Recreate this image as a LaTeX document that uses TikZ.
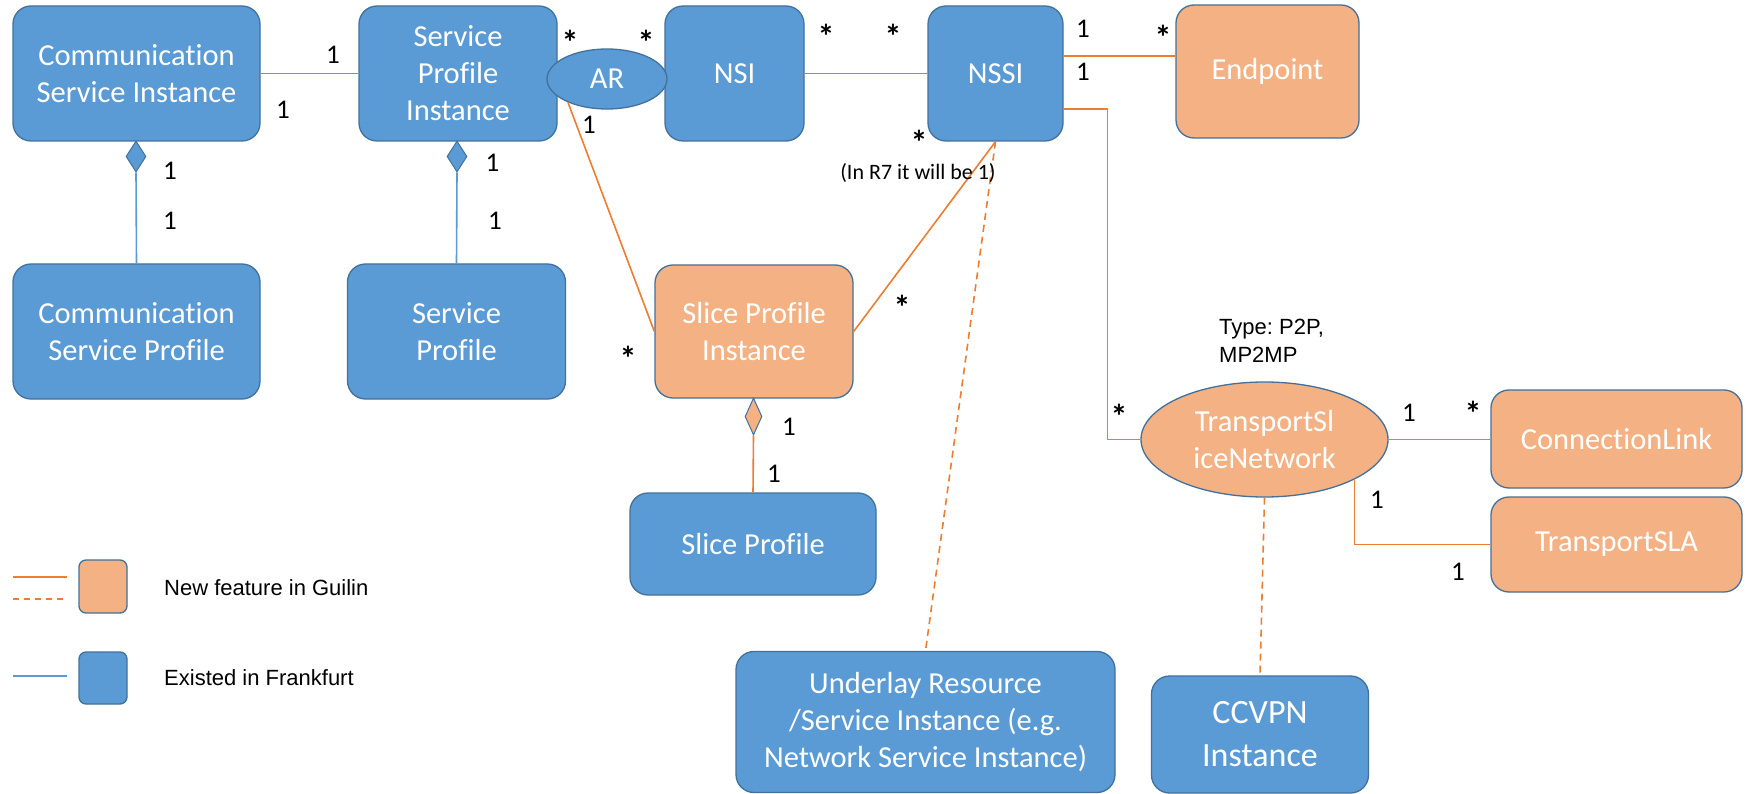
\documentclass[tikz,border=0pt]{standalone}
\usepackage{fontspec}
\setmainfont{Carlito}[Ligatures=NoCommon]
\newfontfamily\arialf{Liberation Sans}
\usetikzlibrary{shapes.geometric}
\definecolor{bfill}{HTML}{5B9BD5}
\definecolor{bedge}{HTML}{41719C}
\definecolor{ofill}{HTML}{F4B183}
\definecolor{oline}{HTML}{ED7D31}
\definecolor{bline}{HTML}{5B9BD5}
\frenchspacing
\begin{document}
\begin{tikzpicture}[x=1pt,y=-1pt,
  box/.style={draw=bedge, line width=1.3pt, rounded corners=18pt, text=white, align=center, inner sep=0pt, font=\fontsize{30.5}{37}\selectfont},
  bluebox/.style={box, fill=bfill},
  orangebox/.style={box, fill=ofill},
  oval/.style={ellipse, draw=bedge, line width=1.3pt, text=white, align=center, inner sep=0pt, font=\fontsize{30.5}{37}\selectfont},
  bconn/.style={draw=bline, line width=1.6pt},
  oconn/.style={draw=oline, line width=1.6pt},
  odash/.style={oconn, dash pattern=on 7pt off 5pt},
  lbl/.style={inner sep=0pt, font=\fontsize{27}{32}\selectfont},
  star/.style={inner sep=0pt, font=\bfseries\fontsize{34}{40}\selectfont},
  dia/.style={diamond, draw=bedge, line width=1pt, inner sep=0pt, minimum width=20pt, minimum height=31pt},
  legtext/.style={anchor=west, inner sep=0pt, font=\arialf\fontsize{22}{28}\selectfont},
  legbox/.style={draw=bedge, line width=1.3pt, rounded corners=7pt, inner sep=0pt, minimum width=48pt, minimum height=52pt},
]
\useasboundingbox (0,0) rectangle (1746,794);
\fill[white] (0,0) rectangle (1746,794);

% boxes
\node[bluebox, minimum width=247pt, minimum height=135pt] (csi) at (136.5,73.5) {Communication\\Service Instance};
\node[bluebox, minimum width=198pt, minimum height=135pt] (spi) at (458,73.5) {Service\\Profile\\Instance};
\node[bluebox, minimum width=139pt, minimum height=135pt] (nsi) at (734.5,73.5) {NSI};
\node[oval, fill=bfill, minimum width=120pt, minimum height=60pt] (ar) at (607,79) {AR};
\node[bluebox, minimum width=135pt, minimum height=135pt] (nssi) at (995.5,73.5) {NSSI};
\node[orangebox, minimum width=183pt, minimum height=133pt] (ep) at (1267.5,71.5) {Endpoint};
\node[bluebox, minimum width=247pt, minimum height=135pt] (csp) at (136.5,331.5) {Communication\\Service Profile};
\node[bluebox, minimum width=218pt, minimum height=135pt] (sp) at (456.5,331.5) {Service\\Profile};
\node[orangebox, minimum width=198pt, minimum height=133pt] (slpi) at (754,331.5) {Slice Profile\\Instance};
\node[bluebox, minimum width=246pt, minimum height=102pt] (slp) at (753,544) {Slice Profile};
\node[oval, fill=ofill, minimum width=247pt, minimum height=115pt] (tsn) at (1264.5,439.5) {TransportSl\\iceNetwork};
\node[orangebox, minimum width=251pt, minimum height=98pt] (cl) at (1616.5,439) {ConnectionLink};
\node[orangebox, minimum width=251pt, minimum height=95pt] (tsla) at (1616.5,544.5) {TransportSLA};
\node[bluebox, minimum width=379pt, minimum height=141pt] (und) at (925.5,722) {Underlay Resource\\/Service Instance (e.g.\\Network Service Instance)};
\node[bluebox, minimum width=217pt, minimum height=117pt, font=\fontsize{34}{43}\selectfont] (ccvpn) at (1260,734.5) {CCVPN\\Instance};

% diamonds
\node[dia, fill=bfill] (d1) at (136,156.5) {};
\node[dia, fill=bfill] (d2) at (457,156.5) {};
\node[dia, fill=ofill, minimum width=17pt, minimum height=37pt] (d3) at (753.5,416.5) {};

% connectors
\draw[bconn] (csi) -- (spi);
\draw[bconn] (d1.south) -- (csp.north);
\draw[bconn] (d2.south) -- (sp.north);
\draw[bconn] (nsi) -- (nssi);
\draw[oconn] (ar.211) -- (slpi.west);
\draw[oconn] (slpi.east) -- (nssi.south);
\draw[odash] (nssi.south) -- (und.north);
\draw[oconn] ([yshift=17.5pt]nssi.east) -- ([yshift=17.5pt]nssi.east -| ep.west);
\draw[oconn] ([yshift=-35.5pt]nssi.east) -- ++(44,0) |- (tsn.west);
\draw[oconn] (d3.south) -- (slp.north);
\draw[oconn] (tsn.east) -- (tsn.east -| cl.west);
\draw[oconn] (tsn.-24.8) |- (tsla.west);
\draw[odash] (tsn.south) -- (ccvpn.north);

% multiplicity labels
\node[lbl] (l1) at (333,55) {1};
\node[lbl] (l2) at (283,110) {1};
\node[lbl] (l3) at (170,171) {1};
\node[lbl] (l4) at (170,221) {1};
\node[lbl] (l5) at (492.5,163) {1};
\node[lbl] (l6) at (495,221) {1};
\node[star] (l7) at (570,42) {*};
\node[star] (l8) at (646,42) {*};
\node[lbl] (l9) at (589,125) {1};
\node[star] (l10) at (826,36) {*};
\node[star] (l11) at (893,36) {*};
\node[lbl] (l12) at (1083,29) {1};
\node[lbl] (l13) at (1083,72) {1};
\node[star] (l14) at (1163,37) {*};
\node[star] (l15) at (919,142) {*};
\node[inner sep=0pt, font=\fontsize{22}{26}\selectfont] (note) at (918,173) {(In R7 it will be 1)};
\node[star] (l16) at (902,307) {*};
\node[star] (l17) at (628,358) {*};
\node[lbl] (l18) at (789,427) {1};
\node[lbl] (l19) at (774,474) {1};
\node[star] (l20) at (1119,416) {*};
\node[lbl] (l21) at (1409,413) {1};
\node[star] (l22) at (1473,413) {*};
\node[lbl] (l23) at (1377,500) {1};
\node[lbl] (l24) at (1458,572) {1};
\node[anchor=north west, align=left, inner sep=0pt, font=\arialf\fontsize{22}{28}\selectfont] (type) at (1219,319) {Type: P2P,\\MP2MP};

% legend
\coordinate (la1) at (13,577); \coordinate (la2) at (67,577);
\coordinate (lb1) at (13,599); \coordinate (lb2) at (67,599);
\coordinate (lc1) at (13,676); \coordinate (lc2) at (67,676);
\draw[oconn] (la1) -- (la2);
\draw[odash, dash pattern=on 6pt off 5pt] (lb1) -- (lb2);
\draw[bconn] (lc1) -- (lc2);
\node[legbox, fill=ofill, minimum height=53pt] (lgo) at (103,586.5) {};
\node[legbox, fill=bfill] (lgb) at (103,678) {};
\node[legtext] (lgt1) at (164,588) {New feature in Guilin};
\node[legtext] (lgt2) at (164,678) {Existed in Frankfurt};
\end{tikzpicture}
\end{document}
